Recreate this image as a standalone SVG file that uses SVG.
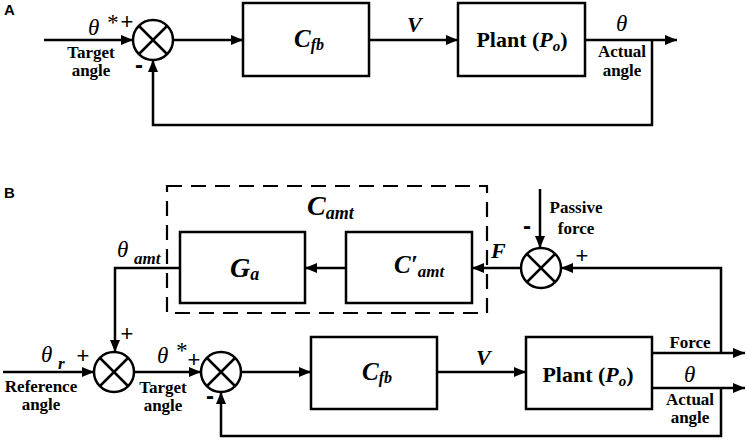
<svg xmlns="http://www.w3.org/2000/svg" width="747" height="441" viewBox="0 0 747 441">
<style>
.ln{fill:none;stroke:#000;stroke-width:2.5}
.bx{fill:#fff;stroke:#000;stroke-width:2.5}
.sj{fill:#fff;stroke:#000;stroke-width:2.5}
.dash{fill:none;stroke:#000;stroke-width:2.2;stroke-dasharray:15 9}
text{fill:#000}
.lb{font-family:"Liberation Serif",serif;font-weight:bold;font-size:17px;text-anchor:middle}
.th{font-family:"Liberation Serif",serif;font-style:italic;font-size:23px}
.bi{font-family:"Liberation Serif",serif;font-style:italic;font-weight:bold}
.sg{font-family:"Liberation Sans",sans-serif;font-size:22px;text-anchor:middle}
.mn{font-family:"Liberation Sans",sans-serif;font-weight:bold;font-size:24px;text-anchor:middle}
.pl{font-family:"Liberation Serif",serif;font-weight:bold;font-size:22px;text-anchor:middle}
.pn{font-family:"Liberation Sans",sans-serif;font-weight:bold;font-size:15px}
</style>
<defs>
<marker id="ah" markerWidth="12" markerHeight="10" refX="12" refY="5" orient="auto" markerUnits="userSpaceOnUse"><path d="M0,0L12,5L0,10z" fill="#000"/></marker>
</defs>

<text class="pn" x="4" y="15">A</text>
<text class="pn" x="4" y="198">B</text>

<g id="connectors">
<path class="ln" d="M44,40H133" marker-end="url(#ah)"/>
<path class="ln" d="M173,40H243" marker-end="url(#ah)"/>
<path class="ln" d="M369,40H458" marker-end="url(#ah)"/>
<path class="ln" d="M585,40H677" marker-end="url(#ah)"/>
<path class="ln" d="M652,40V125H153V60" marker-end="url(#ah)"/>
<path class="ln" d="M3,372H94" marker-end="url(#ah)"/>
<path class="ln" d="M134,372H201" marker-end="url(#ah)"/>
<path class="ln" d="M241,372H311" marker-end="url(#ah)"/>
<path class="ln" d="M437,372H526" marker-end="url(#ah)"/>
<path class="ln" d="M652,353H745" marker-end="url(#ah)"/>
<path class="ln" d="M652,388H745" marker-end="url(#ah)"/>
<path class="ln" d="M721,353V268H561" marker-end="url(#ah)"/>
<path class="ln" d="M721,388V436H221V392" marker-end="url(#ah)"/>
<path class="ln" d="M540,189V248" marker-end="url(#ah)"/>
<path class="ln" d="M521,268H472" marker-end="url(#ah)"/>
<path class="ln" d="M346,268H305" marker-end="url(#ah)"/>
<path class="ln" d="M180,268H115V352" marker-end="url(#ah)"/>
</g>

<g id="camt-box">
<rect class="dash" x="167" y="186" width="320" height="127"/>
<text class="bi" x="307" y="215" font-size="28">C<tspan font-size="18" dy="4">amt</tspan></text>
</g>

<g id="sumA">
<circle class="sj" cx="153" cy="40" r="20"/>
<path class="ln" d="M139,26L167,54M167,26L139,54"/>
</g>
<g id="cfbA">
<rect class="bx" x="243" y="3" width="126" height="73"/>
<text class="bi" x="294" y="47" font-size="25">C<tspan font-size="16" dy="3">fb</tspan></text>
</g>
<g id="plantA">
<rect class="bx" x="458" y="3" width="127" height="73"/>
<text class="pl" x="522" y="47">Plant (<tspan font-style="italic">P</tspan><tspan font-style="italic" font-size="15" dy="4">o</tspan><tspan dy="-4">)</tspan></text>
</g>

<g id="labelsA">
<text class="th" x="88" y="35">θ</text>
<text class="th" x="106" y="30" font-size="17">*</text>
<text class="sg" x="127" y="29">+</text>
<text class="lb" x="91" y="58">Target</text>
<text class="lb" x="91" y="76">angle</text>
<text class="mn" x="139" y="73">-</text>
<text class="bi" x="407" y="32" font-size="22">V</text>
<text class="th" x="616" y="31">θ</text>
<text class="lb" x="622" y="57">Actual</text>
<text class="lb" x="622" y="76">angle</text>
</g>

<g id="sum1">
<circle class="sj" cx="114" cy="372" r="20"/>
<path class="ln" d="M100,358L128,386M128,358L100,386"/>
</g>
<g id="sum2">
<circle class="sj" cx="221" cy="372" r="20"/>
<path class="ln" d="M207,358L235,386M235,358L207,386"/>
</g>
<g id="sum3">
<circle class="sj" cx="541" cy="268" r="20"/>
<path class="ln" d="M527,254L555,282M555,254L527,282"/>
</g>
<g id="ga">
<rect class="bx" x="180" y="232" width="125" height="71"/>
<text class="bi" x="230" y="277" font-size="28">G<tspan font-size="18" dy="3">a</tspan></text>
</g>
<g id="camtp">
<rect class="bx" x="346" y="232" width="126" height="71"/>
<text class="bi" x="394" y="273" font-size="25">C′<tspan font-size="17" dy="4">amt</tspan></text>
</g>
<g id="cfbB">
<rect class="bx" x="311" y="337" width="126" height="72"/>
<text class="bi" x="362" y="380" font-size="25">C<tspan font-size="16" dy="3">fb</tspan></text>
</g>
<g id="plantB">
<rect class="bx" x="526" y="337" width="126" height="72"/>
<text class="pl" x="588" y="382">Plant (<tspan font-style="italic">P</tspan><tspan font-style="italic" font-size="15" dy="4">o</tspan><tspan dy="-4">)</tspan></text>
</g>

<g id="labelsB">
<text class="th" x="117" y="257">θ</text>
<text class="bi" x="134" y="264" font-size="17">amt</text>
<text class="th" x="41" y="362">θ</text>
<text class="bi" x="58" y="369" font-size="17">r</text>
<text class="sg" x="83" y="363">+</text>
<text class="sg" x="127" y="341">+</text>
<text class="lb" x="41" y="392">Reference</text>
<text class="lb" x="41" y="410">angle</text>
<text class="th" x="157" y="363">θ</text>
<text class="th" x="175" y="358" font-size="17">*</text>
<text class="sg" x="194" y="367">+</text>
<text class="lb" x="163" y="393">Target</text>
<text class="lb" x="163" y="411">angle</text>
<text class="mn" x="210" y="404">-</text>
<text class="bi" x="476" y="365" font-size="22">V</text>
<text class="bi" x="491" y="258" font-size="22">F</text>
<text class="mn" x="527" y="234">-</text>
<text class="lb" x="576" y="213">Passive</text>
<text class="lb" x="576" y="234">force</text>
<text class="sg" x="582" y="263">+</text>
<text class="lb" x="690" y="348">Force</text>
<text class="th" x="684" y="382">θ</text>
<text class="lb" x="690" y="405">Actual</text>
<text class="lb" x="690" y="423">angle</text>
</g>
</svg>
